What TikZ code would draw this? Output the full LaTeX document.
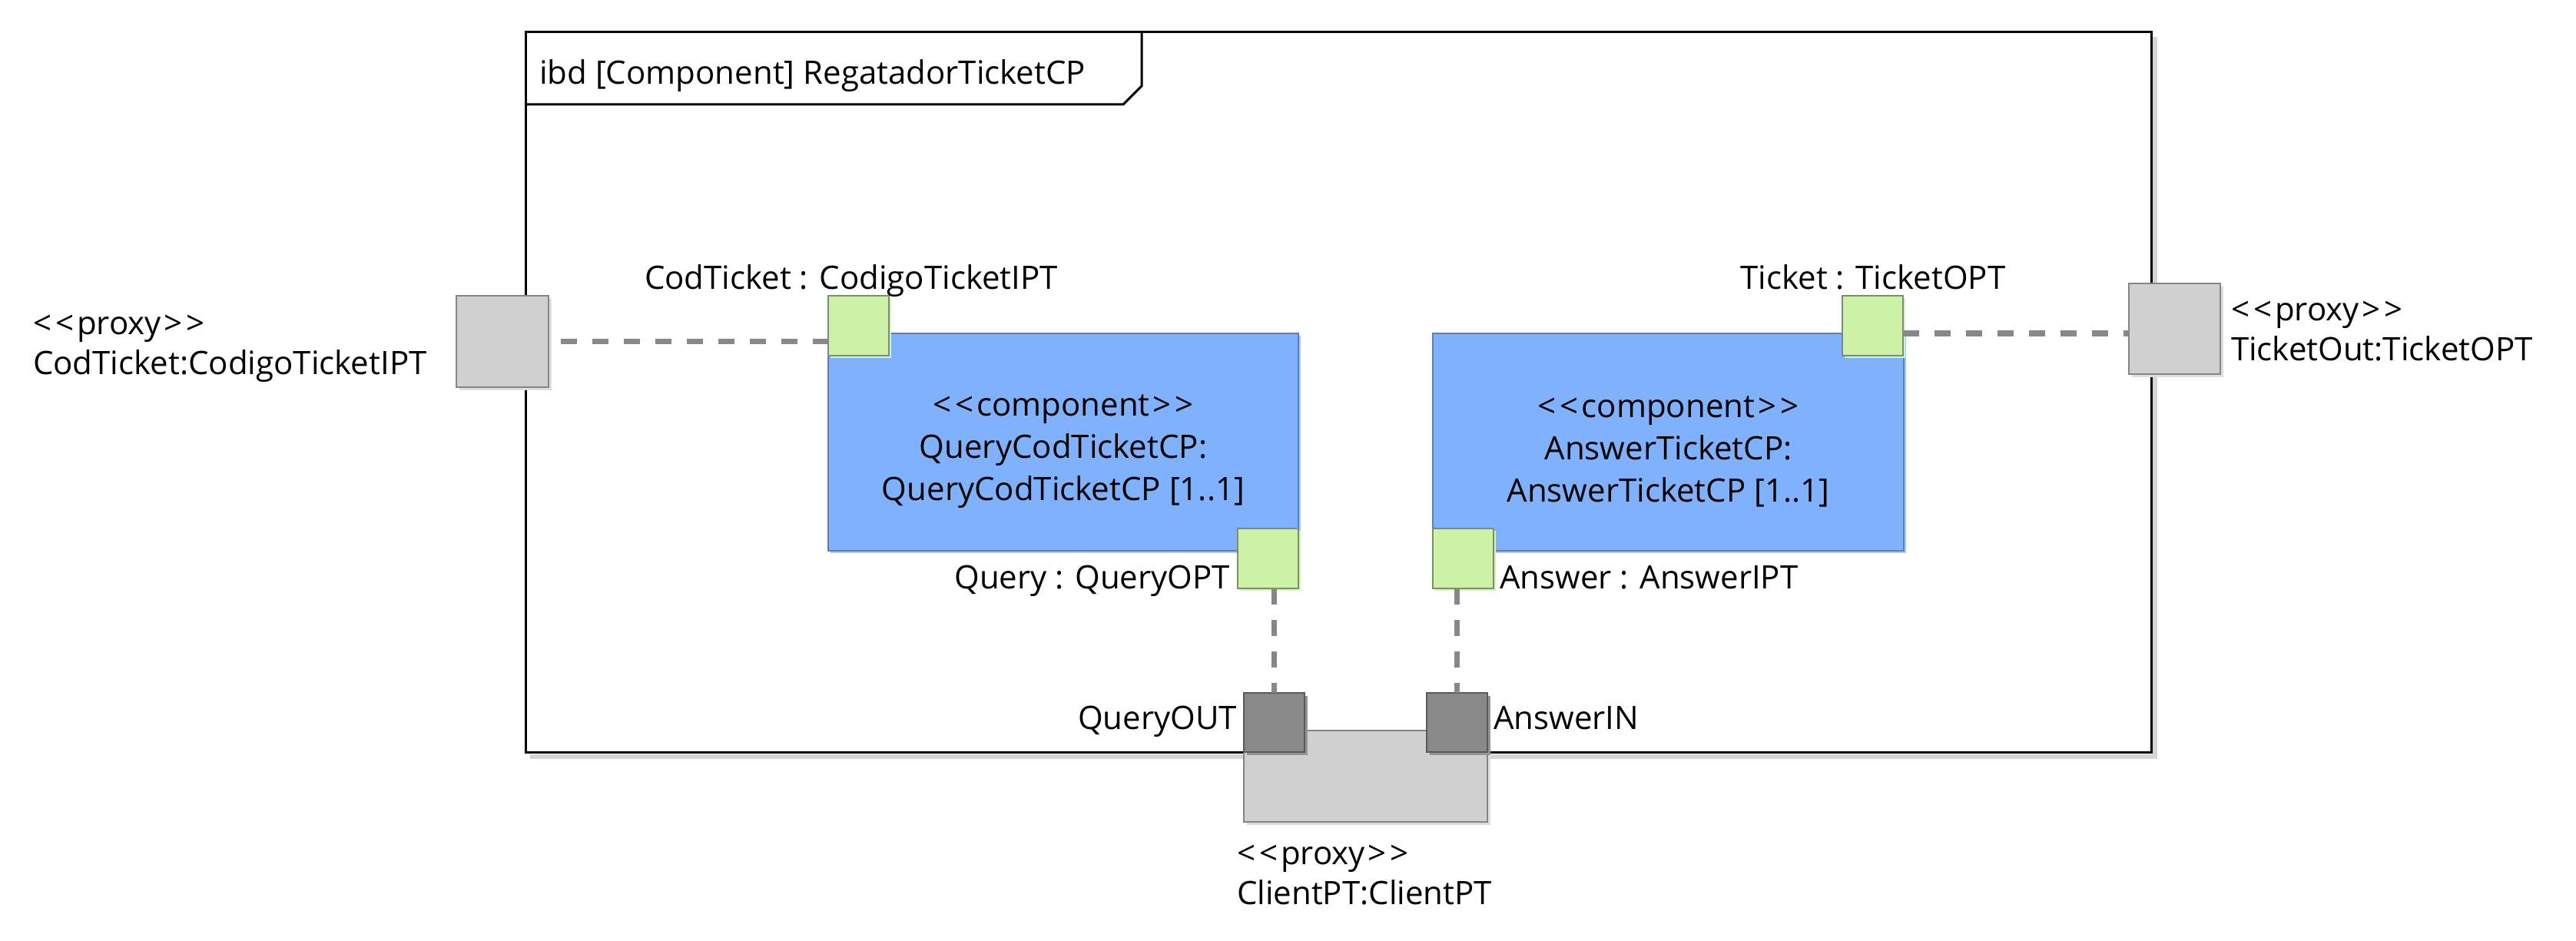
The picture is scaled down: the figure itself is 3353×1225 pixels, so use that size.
\documentclass[tikz,border=0pt]{standalone}
\usepackage{fontspec}
\setmainfont{Open Sans}
\usetikzlibrary{shadows}
\newcommand\lblfont{\fontsize{42}{52}\selectfont}
\newcommand\stereo[1]{<\kern5pt<\kern4pt#1\kern4pt>\kern5pt>}
\definecolor{compfill}{HTML}{7FB1FD}
\definecolor{compdraw}{HTML}{5F7FAF}
\definecolor{compshadow}{HTML}{A6C8FF}
\definecolor{portfill}{HTML}{CDF2A6}
\definecolor{portdraw}{HTML}{7C8C78}
\definecolor{portshadow}{HTML}{D6F5B8}
\definecolor{proxyfill}{HTML}{D0D0D0}
\definecolor{proxydraw}{HTML}{858585}
\definecolor{proxyshadow}{HTML}{DEDEDE}
\definecolor{dportfill}{HTML}{898989}
\definecolor{dportdraw}{HTML}{5A5A5A}
\definecolor{dportshadow}{HTML}{939393}
\definecolor{connc}{HTML}{888888}
\definecolor{frameshadow}{HTML}{D4D4D4}
\begin{document}
\begin{tikzpicture}[x=1pt,y=-1pt,
  every node/.style={font=\lblfont, inner sep=0pt, outer sep=0pt},
  proxybox/.style={rectangle, draw=proxydraw, fill=proxyfill, line width=1.5pt,
    drop shadow={shadow xshift=4pt, shadow yshift=-4pt, fill=proxyshadow, opacity=1}},
  portbox/.style={rectangle, draw=portdraw, fill=portfill, line width=1.5pt,
    minimum width=79pt, minimum height=78pt,
    drop shadow={shadow xshift=3pt, shadow yshift=-3pt, fill=portshadow, opacity=1}},
  dportbox/.style={rectangle, draw=dportdraw, fill=dportfill, line width=1.5pt,
    minimum width=79pt, minimum height=77pt,
    drop shadow={shadow xshift=4pt, shadow yshift=-4pt, fill=dportshadow, opacity=1}},
  compbox/.style={rectangle, draw=compdraw, fill=compfill, line width=1.5pt,
    minimum height=283pt, align=center,
    drop shadow={shadow xshift=3pt, shadow yshift=-3pt, fill=compshadow, opacity=1}},
  conn/.style={draw=connc, line width=7.5pt, dash pattern=on 21pt off 20pt},
  frameline/.style={line width=3pt, black}
]
\useasboundingbox (0,0) rectangle (3353,1225);

% frame shadow and frame
\draw[frameshadow, line width=6pt] (2805,48) -- (2805,985) -- (690,985);
\draw[frameline] (684,42) rectangle (2800,979);
\draw[frameline] (684,136) -- (1462,136) -- (1486,112) -- (1486,42);
\node[anchor=base west] (title) at (702,110) {ibd [Component] RegatadorTicketCP};

% components
\node[compbox, minimum width=612pt] (compQ) at (1384,575.5)
  {\rule{0pt}{53pt}\stereo{component}\\[3pt] QueryCodTicketCP:\\[3pt] QueryCodTicketCP [1..1]};
\node[compbox, minimum width=613pt] (compA) at (2171.5,575.5)
  {\rule{0pt}{53pt}\stereo{component}\\[3pt] AnswerTicketCP:\\[3pt] AnswerTicketCP [1..1]};

% boundary proxy ports
\node[proxybox, minimum width=120pt, minimum height=119pt] (lproxy) at (654,444.5) {};
\node[proxybox, minimum width=119pt, minimum height=118pt] (tproxy) at (2830.5,428) {};
\node[proxybox, minimum width=317pt, minimum height=119pt] (cproxy) at (1777.5,1010.5) {};
\node[dportbox] (qout) at (1658.5,940.5) {};
\node[dportbox] (ain) at (1896.5,940.5) {};

% component ports
\node[portbox] (pCod) at (1117.5,424) {};
\node[portbox] (pTicket) at (2437.5,424) {};
\node[portbox] (pQuery) at (1650.5,727) {};
\node[portbox] (pAns) at (1904.5,727) {};

% connectors
\coordinate (tin) at ([yshift=-6pt]tproxy.west);
\draw[conn, dash phase=25pt] (lproxy.east) -- (lproxy.east -| pCod.west);
\draw[conn] (pTicket.east |- tin) -- (tin);
\draw[conn] (qout.north |- pQuery.south) -- (qout.north);
\draw[conn] (ain.north |- pAns.south) -- (ain.north);

% labels
\node[anchor=base west] (lpx1) at (43,435) {\stereo{proxy}};
\node[anchor=base west] (lpx2) at (43,487) {CodTicket:CodigoTicketIPT};
\node[anchor=base west] (tpx1) at (2904,417) {\stereo{proxy}};
\node[anchor=base west] (tpx2) at (2904,469) {TicketOut:TicketOPT};
\node[anchor=base west] (cpx1) at (1610,1125) {\stereo{proxy}};
\node[anchor=base west] (cpx2) at (1610,1177) {ClientPT:ClientPT};
\node[anchor=base] (lCod) at (1108,376) {CodTicket : CodigoTicketIPT};
\node[anchor=base] (lTicket) at (2438,376) {Ticket : TicketOPT};
\node[anchor=base east] (lQuery) at (1601,766) {Query : QueryOPT};
\node[anchor=base west] (lAns) at (1952,766) {Answer : AnswerIPT};
\node[anchor=base east] (lqout) at (1610,949) {QueryOUT};
\node[anchor=base west] (lain) at (1944,949) {AnswerIN};
\end{tikzpicture}
\end{document}
